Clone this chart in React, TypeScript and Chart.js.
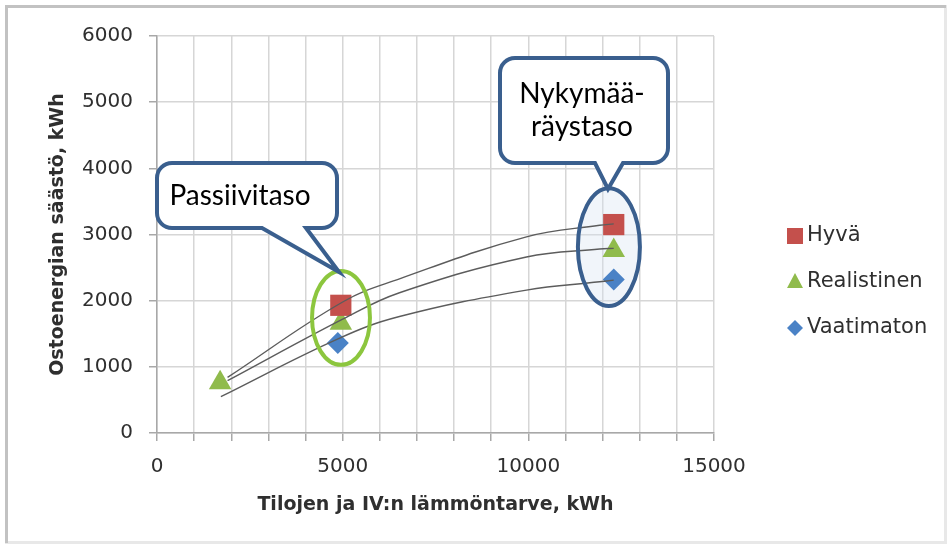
import React, { useEffect, useRef } from "react";
import { Chart, registerables } from "chart.js";

Chart.register(...registerables);

// ---- data ----
const seriesNames = ["Hyvä", "Realistinen", "Vaatimaton"];

const hyvaX = [4950, 12300];
const hyvaY = [1930, 3150];
const realistinenX = [1700, 4950, 12300];
const realistinenY = [760, 1660, 2760];
const vaatimatonX = [4870, 12300];
const vaatimatonY = [1360, 2320];

// trend curves
const hyvaTrendX = [1900, 5000, 6530, 9950, 11920, 12300];
const hyvaTrendY = [840, 1980, 2330, 2965, 3140, 3160];
const realistinenTrendX = [1900, 5000, 6530, 9950, 11920, 12300];
const realistinenTrendY = [790, 1720, 2120, 2660, 2780, 2790];
const vaatimatonTrendX = [1720, 4860, 6530, 9950, 11920, 12300];
const vaatimatonTrendY = [550, 1420, 1760, 2160, 2285, 2310];

const xTickLabels = [0, 5000, 10000, 15000];
const yTickLabels = [0, 1000, 2000, 3000, 4000, 5000, 6000];

const xTitle = "Tilojen ja IV:n lämmöntarve, kWh";
const yTitle = "Ostoenergian säästö, kWh";
const calloutTexts = [["Passiivitaso"], ["Nykymää-", "räystaso"]];

// ---- styles ----
const RED = "#c4504c";
const GREEN = "#90bb4c";
const BLUE = "#4a82c6";
const TREND = "#5c5c5c";
const CALLOUT_BLUE = "#3a5f8e";
const ELLIPSE_GREEN = "#8cc63e";
const TEXT = "#2f2f2f";
const CHART_FONT = "'DejaVu Sans', sans-serif";
const CALLOUT_FONT = "Lato, 'Open Sans', sans-serif";

const pts = (xs: number[], ys: number[]) => xs.map((x, i) => ({ x, y: ys[i] }));

// ellipses anchored on the data clusters (data units)
const ellipses = [
  { cx: 4955, cy: 1740, rx: 780, ry: 710, color: ELLIPSE_GREEN, fill: null as string | null },
  { cx: 12170, cy: 2810, rx: 835, ry: 890, color: CALLOUT_BLUE, fill: "rgba(215,225,242,0.35)" },
];

// callout bubbles (pixels)
const bubbles = [
  { l: 157, t: 163, r: 337, b: 228, tailL: 262, tailR: 306, tipX: 339, tipY: 272, textX: 240, baselines: [205] },
  { l: 500, t: 58, r: 668, b: 163, tailL: 595, tailR: 623, tipX: 608, tipY: 189, textX: 582, baselines: [103, 136] },
];

const legendX = 795;
const legendRows = [236, 282, 328];

function bubblePath(ctx: CanvasRenderingContext2D, bb: any, rad: number) {
  const { l, t, r, b } = bb;
  ctx.beginPath();
  ctx.moveTo(l + rad, t);
  ctx.lineTo(r - rad, t);
  ctx.arcTo(r, t, r, t + rad, rad);
  ctx.lineTo(r, b - rad);
  ctx.arcTo(r, b, r - rad, b, rad);
  ctx.lineTo(bb.tailR, b);
  ctx.lineTo(bb.tipX, bb.tipY);
  ctx.lineTo(bb.tailL, b);
  ctx.lineTo(l + rad, b);
  ctx.arcTo(l, b, l, b - rad, rad);
  ctx.lineTo(l, t + rad);
  ctx.arcTo(l, t, l + rad, t, rad);
  ctx.closePath();
}

const overlayPlugin = {
  id: "overlay",
  beforeDatasetsDraw(chart: any) {
    const { ctx, scales } = chart;
    const xs = scales.x, ys = scales.y;
    ctx.save();
    for (const e of ellipses) {
      if (!e.fill) continue;
      const cx = xs.getPixelForValue(e.cx);
      const cy = ys.getPixelForValue(e.cy);
      const rx = xs.getPixelForValue(e.cx + e.rx) - cx;
      const ry = cy - ys.getPixelForValue(e.cy + e.ry);
      ctx.beginPath();
      ctx.ellipse(cx, cy, rx, ry, 0, 0, Math.PI * 2);
      ctx.fillStyle = e.fill;
      ctx.fill();
    }
    ctx.restore();
  },
  afterDatasetsDraw(chart: any) {
    const { ctx, scales } = chart;
    const xs = scales.x, ys = scales.y;
    ctx.save();
    for (const e of ellipses) {
      const cx = xs.getPixelForValue(e.cx);
      const cy = ys.getPixelForValue(e.cy);
      const rx = xs.getPixelForValue(e.cx + e.rx) - cx;
      const ry = cy - ys.getPixelForValue(e.cy + e.ry);
      ctx.beginPath();
      ctx.ellipse(cx, cy, rx, ry, 0, 0, Math.PI * 2);
      ctx.lineWidth = 4;
      ctx.strokeStyle = e.color;
      ctx.stroke();
    }
    ctx.restore();
  },
  afterDraw(chart: any) {
    const { ctx } = chart;
    ctx.save();
    // callout bubbles
    bubbles.forEach((bb, i) => {
      bubblePath(ctx, bb, 15);
      ctx.fillStyle = "#ffffff";
      ctx.fill();
      ctx.lineWidth = 4;
      ctx.lineJoin = "miter";
      ctx.strokeStyle = CALLOUT_BLUE;
      ctx.stroke();
      ctx.fillStyle = "#000000";
      ctx.font = `28px ${CALLOUT_FONT}`;
      ctx.textAlign = "center";
      ctx.textBaseline = "alphabetic";
      calloutTexts[i].forEach((line, k) => ctx.fillText(line, bb.textX, bb.baselines[k]));
    });
    // legend
    const colors = [RED, GREEN, BLUE];
    seriesNames.forEach((name, i) => {
      const y = legendRows[i];
      ctx.fillStyle = colors[i];
      ctx.beginPath();
      if (i === 0) {
        ctx.rect(legendX - 8, y - 8, 16, 16);
      } else if (i === 1) {
        ctx.moveTo(legendX, y - 9);
        ctx.lineTo(legendX + 8, y + 6);
        ctx.lineTo(legendX - 8, y + 6);
        ctx.closePath();
      } else {
        ctx.moveTo(legendX, y - 8);
        ctx.lineTo(legendX + 8, y);
        ctx.lineTo(legendX, y + 8);
        ctx.lineTo(legendX - 8, y);
        ctx.closePath();
      }
      ctx.fill();
      ctx.fillStyle = TEXT;
      ctx.font = `21px ${CHART_FONT}`;
      ctx.textAlign = "left";
      ctx.textBaseline = "middle";
      ctx.fillText(name, legendX + 12, y);
    });
    // outer frame
    ctx.lineWidth = 3;
    ctx.strokeStyle = "#e8e8e8";
    ctx.strokeRect(6.5, 6.5, 939, 536);
    ctx.strokeStyle = "#c2c2c2";
    ctx.beginPath();
    ctx.moveTo(6.5, 543);
    ctx.lineTo(6.5, 6.5);
    ctx.lineTo(946, 6.5);
    ctx.stroke();
    ctx.restore();
  },
};

export default function App() {
  const ref = useRef<HTMLCanvasElement>(null);

  useEffect(() => {
    const trendStyle = {
      showLine: true,
      pointRadius: 0,
      borderColor: TREND,
      borderWidth: 1.4,
      tension: 0.4,
      order: 0,
    };
    const chart = new Chart(ref.current as HTMLCanvasElement, {
      type: "scatter",
      data: {
        datasets: [
          { label: "Hyvä trend", data: pts(hyvaTrendX, hyvaTrendY), ...trendStyle },
          { label: "Realistinen trend", data: pts(realistinenTrendX, realistinenTrendY), ...trendStyle },
          { label: "Vaatimaton trend", data: pts(vaatimatonTrendX, vaatimatonTrendY), ...trendStyle },
          {
            label: seriesNames[0],
            data: pts(hyvaX, hyvaY),
            pointStyle: "rect",
            pointRadius: 15,
            backgroundColor: RED,
            borderColor: RED,
            borderWidth: 0,
            order: 1,
          },
          {
            label: seriesNames[1],
            data: pts(realistinenX, realistinenY),
            pointStyle: "triangle",
            pointRadius: 13,
            backgroundColor: GREEN,
            borderColor: GREEN,
            borderWidth: 0,
            order: 2,
          },
          {
            label: seriesNames[2],
            data: pts(vaatimatonX, vaatimatonY),
            pointStyle: "rectRot",
            pointRadius: 11,
            backgroundColor: BLUE,
            borderColor: BLUE,
            borderWidth: 0,
            order: 3,
          },
        ] as any,
      },
      options: {
        animation: false,
        responsive: false,
        events: [],
        layout: { padding: { left: 0, top: 36, right: 236, bottom: 0 } },
        plugins: { legend: { display: false }, tooltip: { enabled: false } },
        scales: {
          x: {
            type: "linear",
            min: 0,
            max: 15000,
            afterFit: (s: any) => {
              s.height = 119;
            },
            ticks: {
              stepSize: 1000,
              autoSkip: false,
              maxRotation: 0,
              padding: 14,
              color: TEXT,
              font: { family: CHART_FONT, size: 20 },
              callback: (v: any) => (xTickLabels.includes(Number(v)) ? String(v) : ""),
            },
            grid: { color: "#d6d6d6", lineWidth: 1.5, tickLength: 8, tickColor: "#a8a8a8" },
            border: { color: "#a8a8a8", width: 1.5 },
            title: {
              display: true,
              text: xTitle,
              color: TEXT,
              font: { family: CHART_FONT, size: 19, weight: "bold" },
              padding: { top: 0, bottom: 36 },
            },
          },
          y: {
            type: "linear",
            min: 0,
            max: 6000,
            afterFit: (s: any) => {
              s.width = 157;
            },
            ticks: {
              stepSize: 1000,
              padding: 16,
              color: TEXT,
              font: { family: CHART_FONT, size: 20 },
              callback: (v: any) => (yTickLabels.includes(Number(v)) ? String(v) : ""),
            },
            grid: { color: "#d6d6d6", lineWidth: 1.5, tickLength: 8, tickColor: "#a8a8a8" },
            border: { color: "#a8a8a8", width: 1.5 },
            title: {
              display: true,
              text: yTitle,
              color: TEXT,
              font: { family: CHART_FONT, size: 19, weight: "bold" },
              padding: { top: 47, bottom: 0 },
            },
          },
        },
      } as any,
      plugins: [overlayPlugin],
    });
    return () => chart.destroy();
  }, []);

  return (
    <div style={{ position: "fixed", left: 0, top: 0, width: 950, height: 552, background: "#ffffff" }}>
      <canvas ref={ref} width={950} height={552} style={{ display: "block", width: 950, height: 552 }} />
    </div>
  );
}
